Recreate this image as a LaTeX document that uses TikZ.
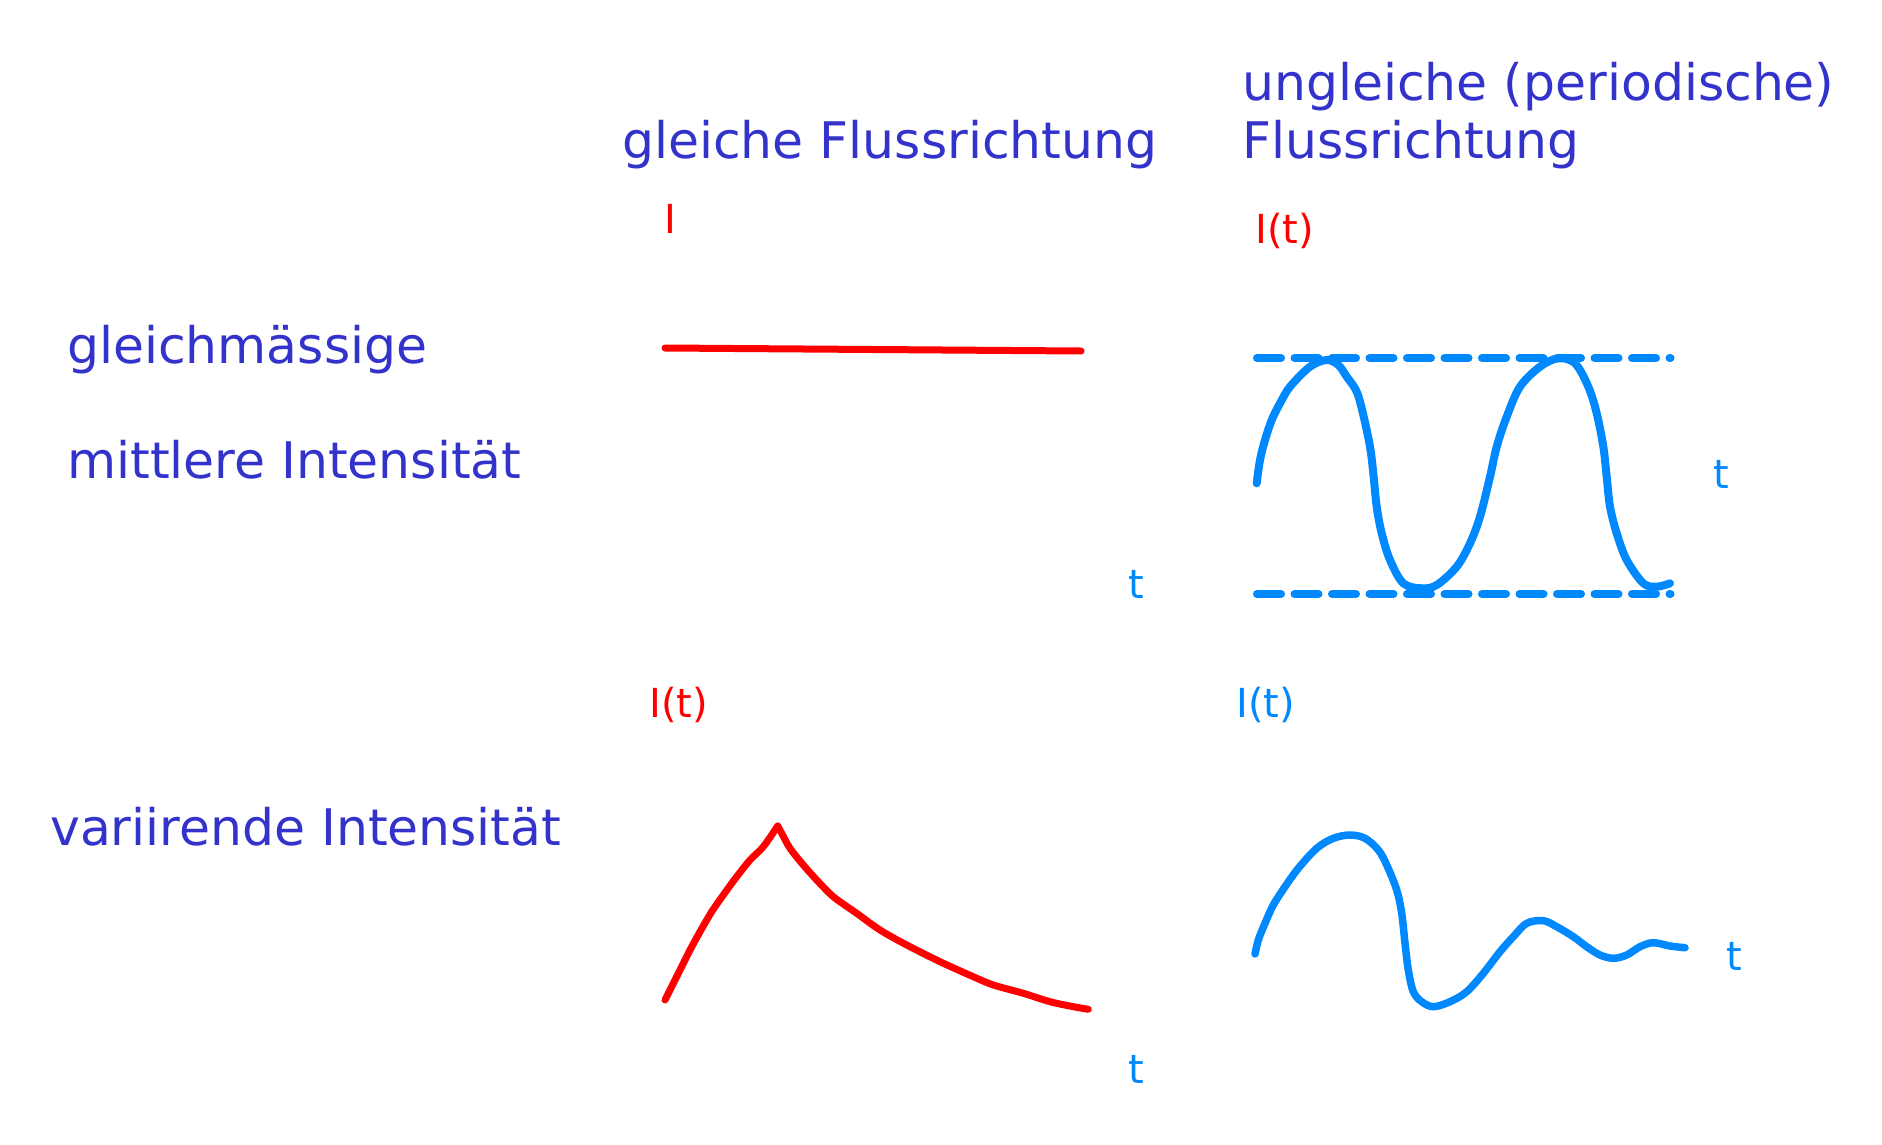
\documentclass[tikz,border=0pt]{standalone}
\usepackage{fontspec}
\setmainfont{DejaVu Sans}
\definecolor{titleblue}{RGB}{51,51,204}
\definecolor{lightblue}{RGB}{0,136,255}
\definecolor{pured}{RGB}{255,0,0}
\tikzset{
  title/.style={anchor=base west, inner sep=0pt, text=titleblue, font=\fontsize{50.4pt}{59pt}\selectfont},
  lbl/.style={anchor=base west, inner sep=0pt, font=\fontsize{40pt}{48pt}\selectfont},
  redcurve/.style={draw=pured, line width=7pt, line cap=round, line join=round},
  bluecurve/.style={draw=lightblue, line width=8pt, line cap=round, line join=round},
  dashline/.style={draw=lightblue, line width=8pt, line cap=round, dash pattern=on 24pt off 13.5pt}
}
\begin{document}
\begin{tikzpicture}[x=1pt,y=-1pt]
\useasboundingbox[fill=white] (0,0) rectangle (1882,1145);

% titles
\node[title] (gf) at (622,159) {gleiche Flussrichtung};
\node[title] (ug) at (1242,101) {ungleiche (periodische)};
\node[title] (fr) at (1242,158) {Flussrichtung};
\node[title] (gm) at (67,363) {gleichmässige};
\node[title] (mi) at (67,478) {mittlere Intensität};
\node[title] (vi) at (50,845) {variirende Intensität};

% axis labels
\node[lbl, text=pured] (l1) at (664,233) {I};
\node[lbl, text=pured] (l2) at (1255,243) {I(t)};
\node[lbl, text=pured] (l3) at (649,717) {I(t)};
\node[lbl, text=lightblue] (l4) at (1236,717) {I(t)};
\node[lbl, text=lightblue] (t1) at (1128,598) {t};
\node[lbl, text=lightblue] (t2) at (1713,488) {t};
\node[lbl, text=lightblue] (t3) at (1726,970) {t};
\node[lbl, text=lightblue] (t4) at (1128,1083) {t};

% constant red line
\coordinate (r0) at (665,348);
\coordinate (r1) at (1081,351);
\draw[redcurve] (r0) -- (r1);

% dashed bounds
\coordinate (da) at (1257,358);
\coordinate (db) at (1670.5,358);
\coordinate (dc) at (1257,594);
\coordinate (dd) at (1670.5,594);
\draw[dashline] (da) -- (db);
\draw[dashline] (dc) -- (dd);

% periodic sine
\draw[bluecurve] plot[smooth, tension=0.55] coordinates {
(1256.7,483.3) (1260,460) (1265,440) (1271.7,420) (1280,403.3) (1290,386.7)
(1310,366.7) (1326.7,360) (1338.3,365) (1346.7,376.7) (1356.7,391.7) (1363.3,415)
(1370,446.7) (1373.3,473.3) (1376.7,506.7) (1381.7,533.3) (1390,560) (1403.3,583.3)
(1421.7,588.3) (1436.7,585) (1456.7,566.7) (1470,543.3) (1480,516.7) (1490,476.7)
(1496.7,446.7) (1506.7,416.7) (1520,386.7) (1540,366.7) (1558.3,358.3) (1575,363.3)
(1588.3,386.7) (1596.7,413.3) (1603.3,446.7) (1606.7,476.7) (1610,506.7) (1616.7,533.3)
(1626.7,560) (1643.3,583.3) (1656.7,586.7) (1670,583.3)};

% red rise and decay
\draw[redcurve] plot[smooth, tension=0.5] coordinates {
(665,1000) (670,990) (680,970) (690,950) (700,931.7) (711.7,911.7) (723.3,895)
(736.7,876.7) (750,860) (763.3,846.7) (777.7,826)};
\draw[redcurve] plot[smooth, tension=0.5] coordinates {
(777.7,826) (781.7,833.3) (790,848.3) (803.3,865) (816.7,880) (833.3,896.7)
(856.7,913.3) (880,930) (906.7,945) (940,961.7) (973.3,976.7) (993.3,985)
(1023.3,993.3) (1050,1001.7) (1073.3,1006.7) (1088.3,1009.3)};

% damped blue wave
\draw[bluecurve, line width=7.5pt] plot[smooth, tension=0.55] coordinates {
(1255,954) (1258.3,940) (1265,923.3) (1273.3,905) (1285,886.7) (1298.3,868.3)
(1316.7,848.3) (1333.3,838.3) (1350,835) (1365,838.3) (1378.3,850) (1386.7,865)
(1396.7,890) (1401.7,913.3) (1405,943.3) (1408.3,970) (1413.3,991.7) (1421.7,1001.7)
(1433.3,1006.7) (1450,1001.7) (1466.7,991.7) (1483.3,973.3) (1500,951.7) (1513.3,936.7)
(1526.7,923.3) (1543.3,920.7) (1556.7,926.7) (1573.3,936.7) (1586.7,946.7) (1600,955)
(1613.3,958.3) (1626.7,955) (1640,946.7) (1653.3,942.7) (1670,946) (1685,947.7)};
\end{tikzpicture}
\end{document}
